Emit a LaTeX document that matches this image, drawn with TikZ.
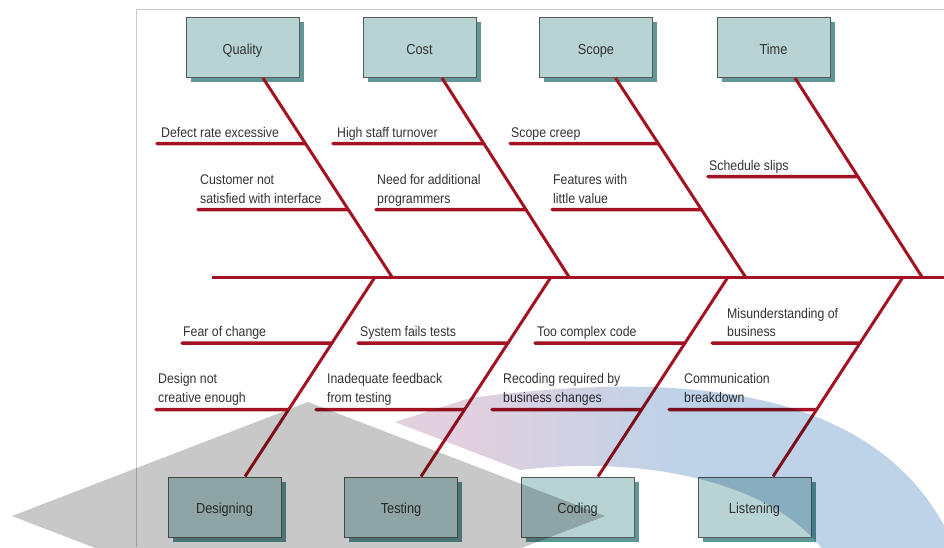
\documentclass[tikz,border=0pt]{standalone}
\usepackage{fontspec}
\setmainfont[FakeStretch=0.88]{Liberation Sans}
\usetikzlibrary{shadows,calc}
\definecolor{boxc}{RGB}{183,211,211}
\definecolor{shadc}{RGB}{95,150,150}
\definecolor{bonec}{RGB}{163,18,35}
\definecolor{framec}{RGB}{200,200,200}
\definecolor{txtc}{RGB}{50,50,50}
\definecolor{grayc}{RGB}{200,200,200}
\definecolor{pinkc}{RGB}{226,208,222}
\definecolor{bluec}{RGB}{190,210,232}
\pgfdeclarehorizontalshading{pinkblue}{100bp}{color(0bp)=(pinkc); color(31bp)=(pinkc); color(50bp)=(bluec); color(100bp)=(bluec)}
\begin{document}
\begin{tikzpicture}[x=1pt,y=-1pt,
  cat/.style={draw=black!65, line width=1pt, fill=boxc, minimum width=113pt, minimum height=60pt, inner sep=0pt,
    font=\fontsize{14.5}{16}\selectfont, text=txtc, text height=13.6pt, text depth=0pt,
    general shadow={fill=shadc, shadow xshift=4.5pt, shadow yshift=-4.5pt}},
  bone/.style={draw=bonec, line width=3pt},
  sub/.style={draw=bonec, line width=3.5pt, line cap=round},
  lbl/.style={anchor=base west, inner sep=0pt, font=\fontsize{14}{18.5}\selectfont, text=txtc, align=left},
  frm/.style={draw=framec, line width=1pt}
]
\useasboundingbox (0,0) rectangle (944,547);
\begin{scope}
\clip (0,0) rectangle (944,547);
% frame
\draw[frm] (136.5,547) -- (136.5,9.5) -- (944,9.5);

% boxes
\node[cat] (q)  at (242.5,47.5) {Quality};
\node[cat] (c)  at (419.5,47.5) {Cost};
\node[cat] (s)  at (596,47.5)   {Scope};
\node[cat] (t)  at (773.5,47.5) {Time};
\node[cat] (d)  at (224.5,507)  {Designing};
\node[cat] (te) at (401,507)    {Testing};
\node[cat] (co) at (577.5,507)  {Coding};
\node[cat] (l)  at (754.5,507)  {Listening};

% spine
\coordinate (sp0) at (212,277);
\coordinate (sp1) at (946,277);
\draw[bone] (sp0) -- (sp1);

% joints
\coordinate (jq) at (392,277);
\coordinate (jc) at (569,277);
\coordinate (js) at (745.5,277);
\coordinate (jt) at (922,277);
\coordinate (jd) at (375,277);
\coordinate (jte) at (551,277);
\coordinate (jco) at (728,277);
\coordinate (jl) at (903,277);

\coordinate (bq) at ($(q.south)+(20.5,0)$);
\coordinate (bc) at ($(c.south)+(22.5,0)$);
\coordinate (bs) at ($(s.south)+(19.5,0)$);
\coordinate (bt) at ($(t.south)+(21.5,0)$);
\coordinate (bd) at ($(d.north)+(20.5,0)$);
\coordinate (bte) at ($(te.north)+(20,0)$);
\coordinate (bco) at ($(co.north)+(20.5,0)$);
\coordinate (bl) at ($(l.north)+(18.5,0)$);

\draw[bone] (bq) -- (jq);
\draw[bone] (bc) -- (jc);
\draw[bone] (bs) -- (js);
\draw[bone] (bt) -- (jt);
\draw[bone] (bd) -- (jd);
\draw[bone] (bte) -- (jte);
\draw[bone] (bco) -- (jco);
\draw[bone] (bl) -- (jl);

% sub-bones top
\coordinate (a1) at (157,143.5);
\coordinate (a2) at (198,209.5);
\coordinate (a3) at (333,143.5);
\coordinate (a4) at (376,209.5);
\coordinate (a5) at (510,143.5);
\coordinate (a6) at (552,209.5);
\coordinate (a7) at (708,176.7);
\draw[sub] (a1) -- (intersection of bq--jq and a1--0,143.5);
\draw[sub] (a2) -- (intersection of bq--jq and a2--0,209.5);
\draw[sub] (a3) -- (intersection of bc--jc and a3--0,143.5);
\draw[sub] (a4) -- (intersection of bc--jc and a4--0,209.5);
\draw[sub] (a5) -- (intersection of bs--js and a5--0,143.5);
\draw[sub] (a6) -- (intersection of bs--js and a6--0,209.5);
\draw[sub] (a7) -- (intersection of bt--jt and a7--0,176.7);

% sub-bones bottom
\coordinate (b1) at (182,343);
\coordinate (b2) at (156,409.5);
\coordinate (b3) at (358,343);
\coordinate (b4) at (316,409.5);
\coordinate (b5) at (535,343);
\coordinate (b6) at (492,409.5);
\coordinate (b7) at (712,343);
\coordinate (b8) at (669,409.5);
\draw[sub] (b1) -- (intersection of bd--jd and b1--0,343);
\draw[sub] (b2) -- (intersection of bd--jd and b2--0,409.5);
\draw[sub] (b3) -- (intersection of bte--jte and b3--0,343);
\draw[sub] (b4) -- (intersection of bte--jte and b4--0,409.5);
\draw[sub] (b5) -- (intersection of bco--jco and b5--0,343);
\draw[sub] (b6) -- (intersection of bco--jco and b6--0,409.5);
\draw[sub] (b7) -- (intersection of bl--jl and b7--0,343);
\draw[sub] (b8) -- (intersection of bl--jl and b8--0,409.5);

% labels (base = baseline of last line)
\node[lbl] (t1) at (161,137) {Defect rate excessive};
\node[lbl] (t2) at (200,203) {Customer not\\satisfied with interface};
\node[lbl] (t3) at (337,137) {High staff turnover};
\node[lbl] (t4) at (377,203) {Need for additional\\programmers};
\node[lbl] (t5) at (511,137) {Scope creep};
\node[lbl] (t6) at (553,203) {Features with\\little value};
\node[lbl] (t7) at (709,170) {Schedule slips};
\node[lbl] (u1) at (183,336.5) {Fear of change};
\node[lbl] (u2) at (158,402) {Design not\\creative enough};
\node[lbl] (u3) at (360,336.5) {System fails tests};
\node[lbl] (u4) at (327,402) {Inadequate feedback\\from testing};
\node[lbl] (u5) at (537,336.5) {Too complex code};
\node[lbl] (u6) at (503,402) {Recoding required by\\business changes};
\node[lbl] (u7) at (727,336.5) {Misunderstanding of\\business};
\node[lbl] (u8) at (684,402) {Communication\\breakdown};

% overlays
\begin{scope}[blend mode=multiply]
\fill[grayc] (12,516) -- (308,402) -- (605,516) -- (308,630) -- cycle;
\shade[shading=pinkblue] (395,422) -- (470,398) .. controls (720,365) and (900,400) .. (960,560)
  -- (830,560) .. controls (780,480) and (640,455) .. (520,470) -- cycle;
\end{scope}
\end{scope}
\end{tikzpicture}
\end{document}
